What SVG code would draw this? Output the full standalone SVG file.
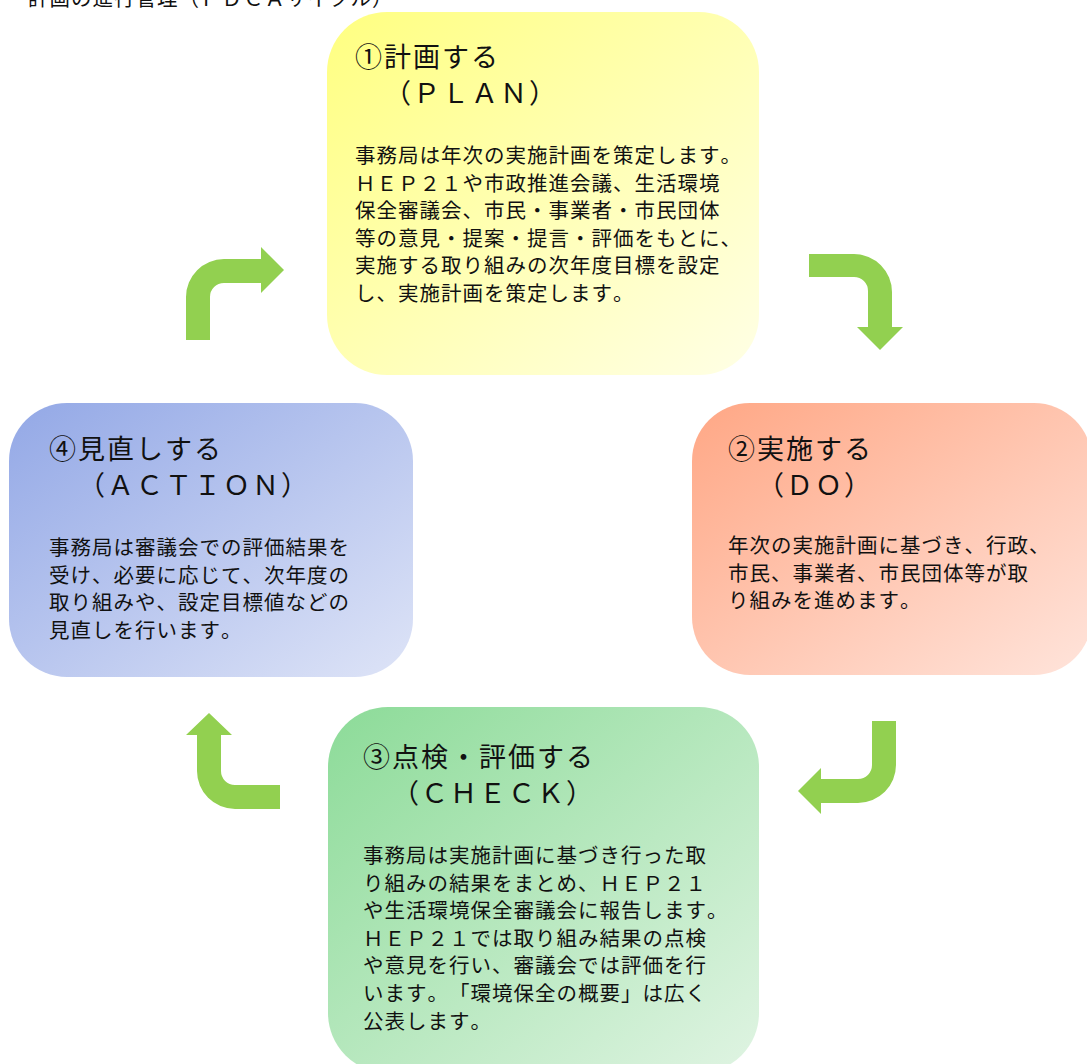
<svg xmlns="http://www.w3.org/2000/svg" width="1087" height="1064" viewBox="0 0 1087 1064">
<style>
text{font-family:"Noto Sans CJK JP","Noto Sans",sans-serif;fill:#111;text-spacing-trim:space-all;font-kerning:none;}
.h{font-size:27px;letter-spacing:2px;}
.b{font-size:20.5px;letter-spacing:1px;}
.t{font-size:20.5px;letter-spacing:1px;}
.arrow{fill:#92D050;}
</style>
<defs>
<linearGradient id="gPlan" x1="0" y1="0" x2="1" y2="1"><stop offset="0" stop-color="#FFFF80"/><stop offset="1" stop-color="#FFFFE6"/></linearGradient>
<linearGradient id="gDo" x1="0" y1="0" x2="1" y2="1"><stop offset="0" stop-color="#FFA785"/><stop offset="1" stop-color="#FFE4DB"/></linearGradient>
<linearGradient id="gAct" x1="0" y1="0" x2="1" y2="1"><stop offset="0" stop-color="#93A8E6"/><stop offset="1" stop-color="#DEE4F7"/></linearGradient>
<linearGradient id="gChk" x1="0" y1="0" x2="1" y2="1"><stop offset="0" stop-color="#8CDB98"/><stop offset="1" stop-color="#E0F4E3"/></linearGradient>
</defs>
<rect width="1087" height="1064" fill="#fff"/>
<text class="t" x="28" y="6">計画の進行管理（ＰＤＣＡサイクル）</text>

<g id="connectors">
<path id="a-act-plan" class="arrow" d="M186,340 L186,297 A38,38 0 0 1 224,259 L261,259 L261,247 L284,270 L261,293 L261,283 L224,283 A14,14 0 0 0 210,297 L210,340 Z"/>
<path id="a-plan-do" class="arrow" d="M809,254 L854,254 A38,38 0 0 1 892,292 L892,327 L903,327 L880,350 L857,327 L868,327 L868,291 A14,14 0 0 0 854,277 L809,277 Z"/>
<path id="a-do-chk" class="arrow" d="M872,721 L896,721 L896,765 A38,38 0 0 1 858,803 L821,803 L821,814 L798,791 L821,768 L821,779 L858,779 A14,14 0 0 0 872,765 Z"/>
<path id="a-chk-act" class="arrow" d="M280,809 L235,809 A38,38 0 0 1 197,771 L197,735 L186,735 L209,713 L232,735 L221,735 L221,771 A14,14 0 0 0 235,785 L280,785 Z"/>
</g>

<g id="plan">
<rect x="327" y="12" width="432" height="363" rx="60" fill="url(#gPlan)"/>
<text class="h" x="355" y="67">①計画する</text>
<text class="h" x="355" y="103">　（ＰＬＡＮ）</text>
<text class="b" x="355" y="163">事務局は年次の実施計画を策定します。<tspan x="355" dy="27.6">ＨＥＰ２１や市政推進会議、生活環境</tspan><tspan x="355" dy="27.6">保全審議会、市民・事業者・市民団体</tspan><tspan x="355" dy="27.6">等の意見・提案・提言・評価をもとに、</tspan><tspan x="355" dy="27.6">実施する取り組みの次年度目標を設定</tspan><tspan x="355" dy="27.6">し、実施計画を策定します。</tspan></text>
</g>

<g id="do">
<rect x="692" y="403" width="400" height="272" rx="58" fill="url(#gDo)"/>
<text class="h" x="728" y="459">②実施する</text>
<text class="h" x="728" y="495">　（ＤＯ）</text>
<text class="b" x="728" y="553">年次の実施計画に基づき、行政、<tspan x="728" dy="27.6">市民、事業者、市民団体等が取</tspan><tspan x="728" dy="27.6">り組みを進めます。</tspan></text>
</g>

<g id="check">
<rect x="328" y="707" width="431" height="366" rx="60" fill="url(#gChk)"/>
<text class="h" x="363" y="767">③点検・評価する</text>
<text class="h" x="363" y="803">　（ＣＨＥＣＫ）</text>
<text class="b" x="363" y="863">事務局は実施計画に基づき行った取<tspan x="363" dy="27.6">り組みの結果をまとめ、ＨＥＰ２１</tspan><tspan x="363" dy="27.6">や生活環境保全審議会に報告します。</tspan><tspan x="363" dy="27.6">ＨＥＰ２１では取り組み結果の点検</tspan><tspan x="363" dy="27.6">や意見を行い、審議会では評価を行</tspan><tspan x="363" dy="27.6">います。「環境保全の概要」は広く</tspan><tspan x="363" dy="27.6">公表します。</tspan></text>
</g>

<g id="action">
<rect x="9" y="403" width="404" height="274" rx="58" fill="url(#gAct)"/>
<text class="h" x="49" y="459">④見直しする</text>
<text class="h" x="49" y="495">　（ＡＣＴＩＯＮ）</text>
<text class="b" x="49" y="555">事務局は審議会での評価結果を<tspan x="49" dy="27.6">受け、必要に応じて、次年度の</tspan><tspan x="49" dy="27.6">取り組みや、設定目標値などの</tspan><tspan x="49" dy="27.6">見直しを行います。</tspan></text>
</g>
</svg>
